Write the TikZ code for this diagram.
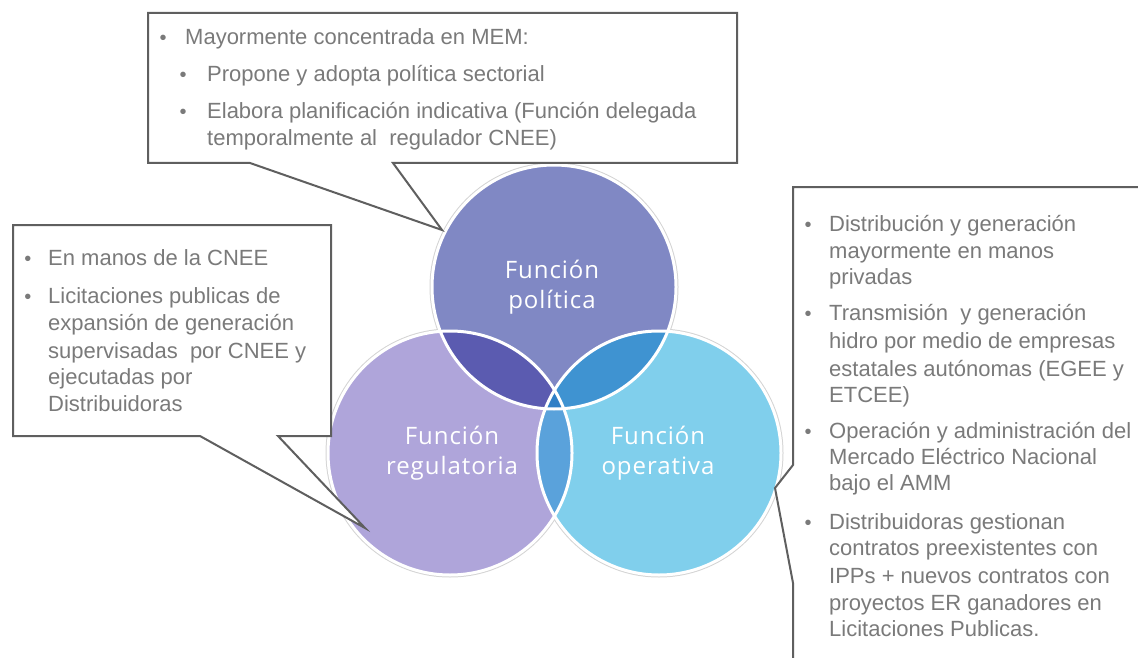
\documentclass[tikz,border=0pt]{standalone}
\usepackage{fontspec}
\setmainfont{Liberation Sans}
\newfontfamily\circfont[LetterSpace=4]{Open Sans}
\definecolor{txtgray}{HTML}{7A7A7A}
\definecolor{boxgray}{HTML}{5F5F5F}
\definecolor{topc}{HTML}{8088C4}
\definecolor{leftc}{HTML}{AFA5DA}
\definecolor{rightc}{HTML}{80CFEC}
\definecolor{tlc}{HTML}{5B5BB0}
\definecolor{trc}{HTML}{3F93D1}
\definecolor{lrc}{HTML}{5AA2DB}
\definecolor{cenc}{HTML}{2F7FC6}
\definecolor{haloc}{HTML}{D4D4D4}
\begin{document}
\begin{tikzpicture}[x=1pt,y=-1pt,
  callout/.style={draw=boxgray, line width=2pt, fill=white, line join=miter},
  txt/.style={anchor=base west, inner sep=0pt, text=txtgray, font=\fontsize{22}{26}\selectfont},
  bul/.style={anchor=base, inner sep=0pt, text=txtgray, font=\fontsize{20}{20}\selectfont},
  lbl/.style={align=center, inner sep=0pt, text=white, font=\circfont\fontsize{24}{30}\selectfont},
  ring/.style={draw=white, line width=3pt},
  halo/.style={draw=haloc, line width=5pt}]
\useasboundingbox (0,0) rectangle (1138,658);
\coordinate (cT) at (554,287);
\coordinate (cL) at (450,453);
\coordinate (cR) at (659,453);
\def\R{122}
% halos
\foreach \c in {cT,cL,cR} \path[halo] (\c) circle[radius=\R];
% base fills
\fill[topc] (cT) circle[radius=\R];
\fill[leftc] (cL) circle[radius=\R];
\fill[rightc] (cR) circle[radius=\R];
% overlaps
\begin{scope}\clip (cT) circle[radius=\R]; \fill[tlc] (cL) circle[radius=\R];\end{scope}
\begin{scope}\clip (cT) circle[radius=\R]; \fill[trc] (cR) circle[radius=\R];\end{scope}
\begin{scope}\clip (cL) circle[radius=\R]; \fill[lrc] (cR) circle[radius=\R];\end{scope}
\begin{scope}\clip (cT) circle[radius=\R]; \clip (cL) circle[radius=\R]; \fill[cenc] (cR) circle[radius=\R];\end{scope}
% white rings
\foreach \c in {cT,cL,cR} \path[ring] (\c) circle[radius=\R];
% circle labels
\node[lbl] (lT) at (552,287) {Función\\política};
\node[lbl] (lL) at (452,453) {Función\\regulatoria};
\node[lbl] (lR) at (658,453) {Función\\operativa};

% callouts
\coordinate (tipT) at (442,230);
\coordinate (tipL) at (365,528);
\coordinate (tipR) at (775,488);
\draw[callout] (148,13) -- (737,13) -- (737,163) -- (393,163) -- (tipT) -- (250,163) -- (148,163) -- cycle;
\draw[callout] (13,225) -- (331,225) -- (331,436) -- (278,436) -- (tipL) -- (200,436) -- (13,436) -- cycle;
\draw[callout] (793,187) -- (1160,187) -- (1160,690) -- (793,690) -- (793,583) -- (tipR) -- (793,465) -- cycle;

% top callout text
\node[bul] (bT1) at (163,45) {•};
\node[txt] (tT1) at (185,45) {Mayormente concentrada en MEM:};
\node[bul] (bT2) at (183,82) {•};
\node[txt] (tT2) at (207,82) {Propone y adopta política sectorial};
\node[bul] (bT3) at (183,119) {•};
\node[txt] (tT3) at (207,119) {Elabora planificación indicativa (Función delegada};
\node[txt] (tT4) at (207,146) {temporalmente al\ \ regulador CNEE)};

% left callout text
\node[bul] (bL1) at (28,265) {•};
\node[bul] (bL2) at (28,303) {•};
\foreach \t/\y [count=\i] in {En manos de la CNEE/265, Licitaciones publicas de/303, expansión de generación/330, supervisadas\ \ por CNEE y/358, ejecutadas por/384, Distribuidoras/411}
  \node[txt] (tL\i) at (48,\y) {\t};

% right callout text
\foreach \y [count=\i] in {231,320,438,529}
  \node[bul] (bR\i) at (808,\y) {•};
\foreach \t/\y [count=\i] in {Distribución y generación/231, mayormente en manos/258, privadas/284,
  Transmisión\ \ y generación/320, hidro por medio de empresas/348, estatales autónomas (EGEE y/376, ETCEE)/402,
  Operación y administración del/438, Mercado Eléctrico Nacional/464, bajo el AMM/490,
  Distribuidoras gestionan/529, contratos preexistentes con/555, IPPs + nuevos contratos con/583,
  proyectos ER ganadores en/610, Licitaciones Publicas./636}
  \node[txt] (tR\i) at (829,\y) {\t};
\end{tikzpicture}
\end{document}
